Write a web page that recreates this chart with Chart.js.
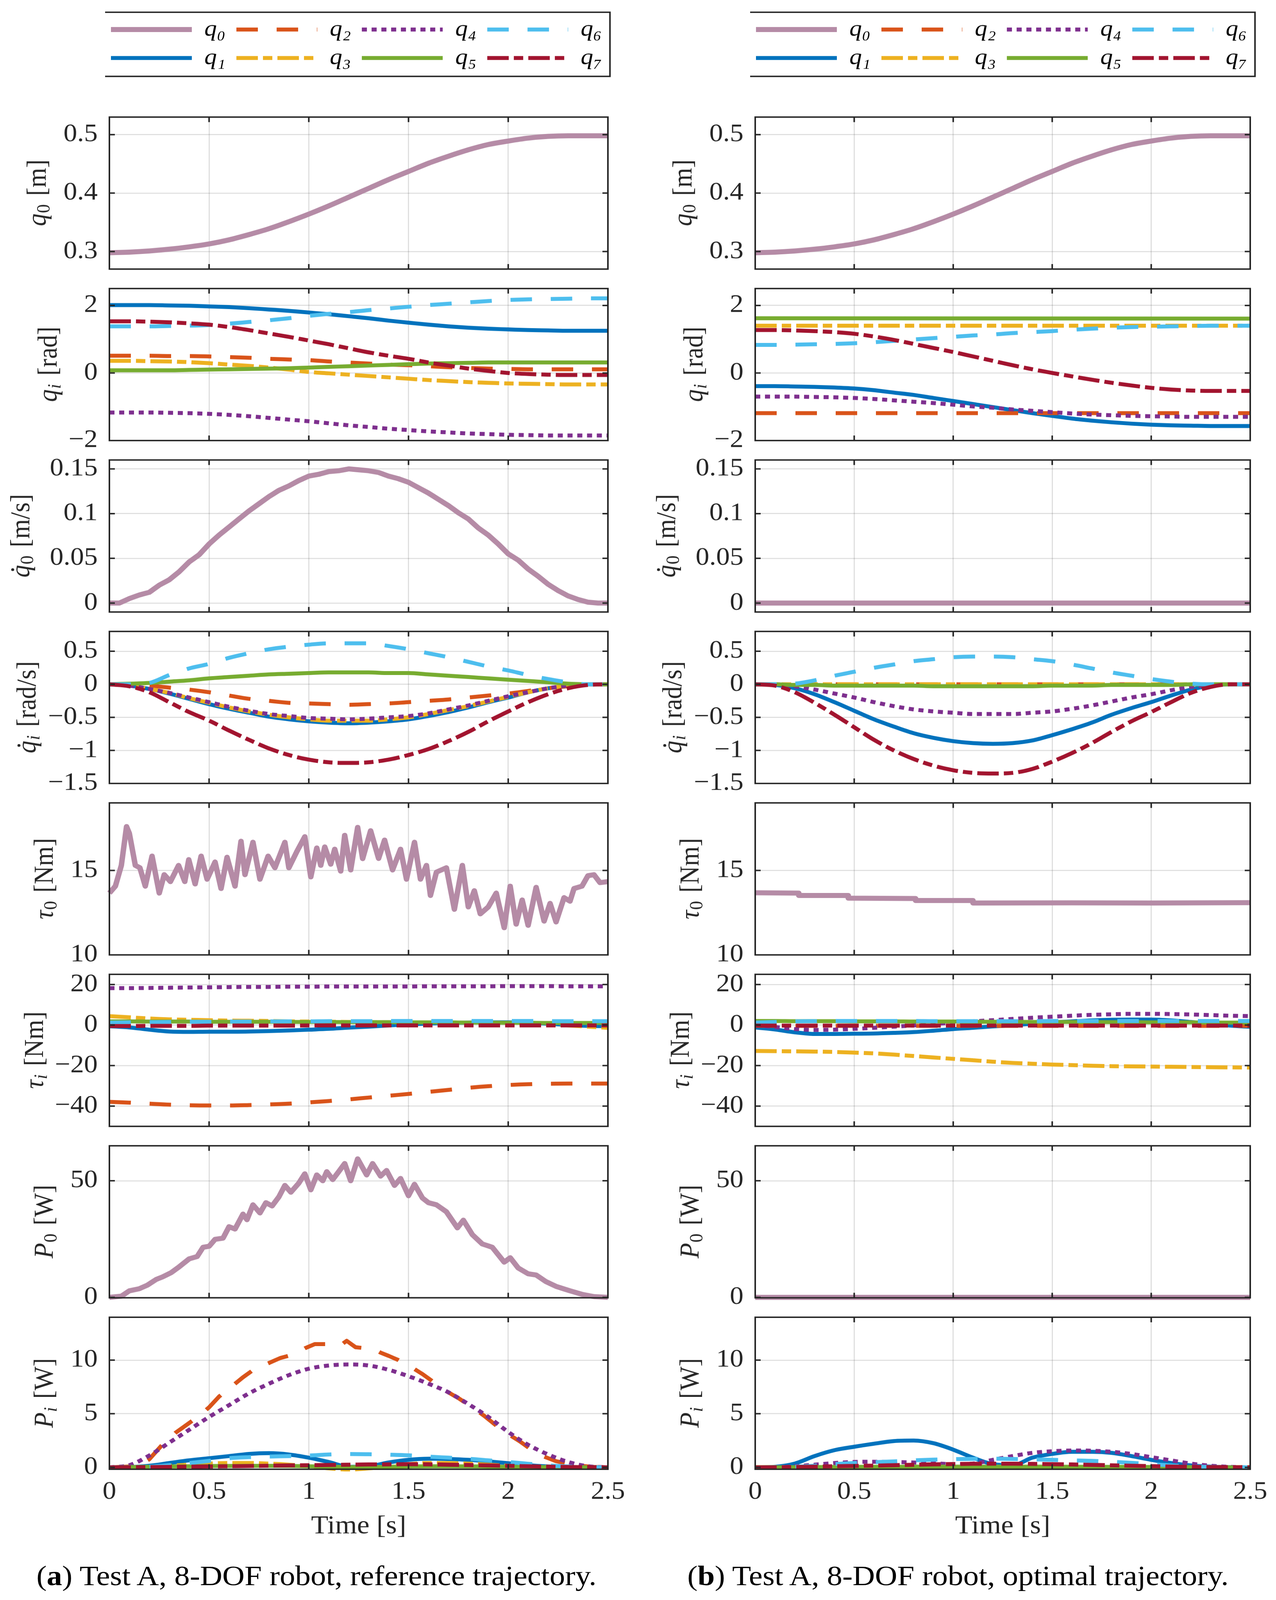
<!DOCTYPE html>
<html>
<head>
<meta charset="utf-8">
<script src="https://cdn.jsdelivr.net/npm/chart.js@4.4.1/dist/chart.umd.min.js"></script>
<style>
  html, body { margin: 0; padding: 0; background: #fff; overflow: hidden; }
  #page { position: relative; width: 3266px; height: 4442px; transform-origin: 0 0; }
  #page canvas { position: absolute; }
  .cap { position: absolute; height: 110px; line-height: 110px; text-align: center; white-space: nowrap;
         font-family: "Liberation Serif", serif; font-size: 79px; color: #000; }
</style>
</head>
<body>
<div id="page"></div>
<script>
// ---- sample times ----
const T = [0,0.1,0.2,0.3,0.4,0.5,0.6,0.7,0.8,0.9,1.0,1.1,1.2,1.3,1.4,1.5,1.6,1.7,1.8,1.9,2.0,2.1,2.2,2.3,2.4,2.5];
const T2 = [0, 2.5];
const T51 = [0,0.05,0.1,0.15,0.2,0.25,0.3,0.35,0.4,0.45,0.5,0.55,0.6,0.65,0.7,0.75,0.8,0.85,0.9,0.95,1.0,
  1.05,1.1,1.15,1.2,1.25,1.3,1.35,1.4,1.45,1.5,1.55,1.6,1.65,1.7,1.75,1.8,1.85,1.9,1.95,2.0,
  2.05,2.1,2.15,2.2,2.25,2.3,2.35,2.4,2.45,2.5];

// ---- (a) reference trajectory ----
const aQ0 = [0.298,0.299,0.301,0.304,0.308,0.313,0.320,0.329,0.339,0.351,0.364,0.378,0.393,0.408,0.423,0.437,0.451,0.463,0.474,0.483,0.489,0.494,0.497,0.498,0.498,0.498];
const aQ1 = [2.01,2.01,2.01,2.00,1.99,1.97,1.95,1.92,1.88,1.84,1.79,1.74,1.68,1.62,1.55,1.49,1.43,1.38,1.34,1.31,1.29,1.27,1.26,1.25,1.25,1.25];
const aQ2 = [0.51,0.51,0.51,0.50,0.50,0.49,0.47,0.45,0.42,0.40,0.38,0.34,0.31,0.28,0.25,0.23,0.20,0.17,0.15,0.13,0.12,0.11,0.11,0.11,0.11,0.11];
const aQ3 = [0.36,0.36,0.35,0.34,0.32,0.29,0.25,0.21,0.16,0.10,0.03,-0.01,-0.05,-0.09,-0.13,-0.17,-0.21,-0.24,-0.27,-0.29,-0.31,-0.32,-0.33,-0.34,-0.34,-0.34];
const aQ4 = [-1.17,-1.17,-1.17,-1.18,-1.19,-1.21,-1.24,-1.28,-1.33,-1.38,-1.43,-1.49,-1.55,-1.60,-1.65,-1.69,-1.73,-1.76,-1.79,-1.81,-1.83,-1.84,-1.85,-1.85,-1.85,-1.85];
const aQ5 = [0.08,0.08,0.08,0.08,0.09,0.10,0.11,0.12,0.13,0.14,0.16,0.18,0.20,0.22,0.24,0.26,0.28,0.29,0.30,0.31,0.31,0.31,0.31,0.31,0.31,0.31];
const aQ6 = [1.38,1.38,1.38,1.39,1.40,1.42,1.46,1.51,1.56,1.62,1.69,1.75,1.80,1.86,1.91,1.96,2.01,2.05,2.09,2.13,2.16,2.18,2.19,2.20,2.21,2.21];
const aQ7 = [1.53,1.53,1.52,1.50,1.47,1.43,1.36,1.27,1.17,1.07,0.96,0.85,0.73,0.61,0.51,0.42,0.31,0.22,0.13,0.06,0.00,-0.03,-0.05,-0.06,-0.06,-0.06];

const aDQ0 = [0,0,0.005,0.009,0.012,0.020,0.026,0.035,0.046,0.054,0.066,0.076,0.085,0.094,0.103,0.111,0.119,0.126,0.131,0.137,0.142,
  0.144,0.147,0.148,0.150,0.149,0.148,0.146,0.142,0.139,0.135,0.129,0.123,0.116,0.109,0.101,0.094,0.084,0.076,0.066,0.055,
  0.048,0.038,0.030,0.021,0.014,0.008,0.004,0.001,0,0];
const aDQ1 = [0,-0.02,-0.07,-0.14,-0.22,-0.30,-0.37,-0.43,-0.49,-0.53,-0.56,-0.58,-0.59,-0.58,-0.56,-0.53,-0.48,-0.42,-0.35,-0.27,-0.20,-0.12,-0.06,-0.02,0,0];
const aDQ2 = [0,0,-0.02,-0.05,-0.08,-0.12,-0.17,-0.22,-0.25,-0.28,-0.29,-0.30,-0.31,-0.30,-0.29,-0.27,-0.25,-0.23,-0.20,-0.17,-0.14,-0.10,-0.06,-0.03,0,0];
const aDQ3 = [0,-0.02,-0.07,-0.13,-0.21,-0.28,-0.35,-0.41,-0.46,-0.50,-0.53,-0.55,-0.55,-0.55,-0.53,-0.50,-0.45,-0.39,-0.33,-0.26,-0.19,-0.12,-0.06,-0.02,0,0];
const aDQ4 = [0,-0.02,-0.07,-0.13,-0.20,-0.27,-0.34,-0.40,-0.45,-0.48,-0.51,-0.52,-0.53,-0.52,-0.50,-0.48,-0.44,-0.38,-0.32,-0.25,-0.18,-0.12,-0.06,-0.02,0,0];
const aDQ5 = [0,0.01,0.02,0.04,0.06,0.09,0.11,0.13,0.15,0.16,0.17,0.18,0.18,0.18,0.17,0.17,0.15,0.13,0.11,0.09,0.07,0.05,0.03,0.01,0,0];
const aDQ6 = [0,0,0.02,0.14,0.24,0.31,0.40,0.47,0.53,0.57,0.60,0.62,0.62,0.62,0.58,0.53,0.47,0.41,0.34,0.27,0.21,0.14,0.08,0.03,0,0];
const aDQ7 = [0,-0.03,-0.12,-0.27,-0.42,-0.55,-0.70,-0.84,-0.97,-1.07,-1.14,-1.18,-1.19,-1.18,-1.14,-1.07,-0.98,-0.86,-0.72,-0.56,-0.41,-0.27,-0.15,-0.06,-0.01,0];

const aTau0T = [0,0.03,0.06,0.086,0.10,0.13,0.153,0.18,0.214,0.25,0.275,0.306,0.347,0.378,0.398,0.43,0.46,0.49,0.53,0.56,
  0.59,0.63,0.66,0.68,0.72,0.755,0.796,0.83,0.88,0.90,0.94,0.98,1.01,1.04,1.06,1.08,1.11,1.13,1.16,1.18,
  1.21,1.245,1.27,1.31,1.35,1.38,1.42,1.46,1.49,1.53,1.56,1.59,1.61,1.64,1.69,1.73,1.77,1.80,1.83,1.86,
  1.90,1.94,1.98,2.01,2.04,2.07,2.10,2.14,2.18,2.21,2.24,2.28,2.31,2.33,2.37,2.40,2.43,2.46,2.5];
const aTau0 = [13.66,14.07,15.3,17.6,17.2,15.3,15.16,14.07,15.85,13.66,14.75,14.34,15.3,14.34,15.64,14.2,15.85,14.48,15.5,13.93,
  15.78,14.07,16.73,14.75,16.67,14.48,15.85,15.16,16.67,15.16,16.12,17.0,14.62,16.33,15.3,16.39,15.37,16.26,14.96,17.08,
  15.03,17.55,15.7,17.35,15.71,16.8,15.03,16.26,14.48,16.67,14.48,15.3,13.52,14.9,15.16,12.7,15.3,12.84,13.8,12.43,
  12.84,13.66,11.61,14.07,11.82,13.25,11.75,14.0,12.0,13.05,11.95,13.39,13.18,13.93,14.07,14.69,14.75,14.28,14.34];
const aTau1 = [-0.6,-1.2,-2.3,-3.2,-3.4,-3.3,-3.3,-3.2,-3.0,-2.7,-2.3,-1.9,-1.3,-0.8,-0.2,0.3,0.7,1.0,1.2,1.3,1.3,1.1,0.6,0.0,-0.4,-0.6];
const aTau2 = [-37.9,-38.3,-38.8,-39.3,-39.6,-39.7,-39.7,-39.5,-39.2,-38.8,-38.2,-37.5,-36.7,-35.8,-34.9,-34.0,-33.0,-32.0,-31.0,-30.2,-29.6,-29.2,-29.0,-28.9,-28.9,-28.9];
const aTau3 = [4.4,3.8,3.2,2.8,2.6,2.4,2.2,2.1,2.0,1.8,1.7,1.6,1.5,1.4,1.3,1.2,1.1,1.0,0.9,0.8,0.7,0.5,0.3,-0.2,-0.8,-1.4];
const aTau4 = [18.2,18.2,18.3,18.4,18.5,18.6,18.7,18.8,18.8,18.9,18.9,19.0,19.0,19.0,19.0,19.0,19.1,19.1,19.1,19.1,19.2,19.2,19.2,19.1,19.1,19.1];
const aTau5 = [1.8,1.8,1.7,1.7,1.7,1.6,1.6,1.6,1.6,1.5,1.5,1.5,1.4,1.4,1.4,1.3,1.3,1.3,1.2,1.2,1.1,1.1,1.0,1.0,1.0,1.0];
const aTau6 = [1.2,1.3,1.4,1.5,1.6,1.6,1.7,1.7,1.8,1.8,1.8,1.9,1.9,1.9,2.0,2.0,2.0,2.0,2.0,2.0,2.0,2.0,1.9,1.9,1.9,1.9];
const aTau7 = [-0.5,-0.5,-0.4,-0.4,-0.4,-0.3,-0.3,-0.3,-0.3,-0.3,-0.2,-0.2,-0.2,-0.2,-0.2,-0.2,-0.2,-0.2,-0.2,-0.2,-0.2,-0.2,-0.2,-0.2,-0.2,-0.2];

const aP0T = [0,0.06,0.10,0.15,0.19,0.235,0.265,0.31,0.35,0.40,0.44,0.47,0.50,0.53,0.57,0.60,0.63,0.67,0.69,0.72,
  0.755,0.785,0.816,0.85,0.88,0.91,0.95,0.98,1.01,1.04,1.07,1.09,1.12,1.15,1.18,1.21,1.245,1.29,1.32,1.36,
  1.39,1.43,1.46,1.50,1.53,1.57,1.60,1.64,1.69,1.745,1.775,1.82,1.87,1.92,1.98,2.01,2.05,2.10,2.14,2.19,
  2.24,2.31,2.37,2.43,2.5];
const aP0 = [0,0.5,2.8,3.7,5.2,7.7,8.7,10.6,13.1,16.5,17.5,21.5,21.9,24.9,25.4,30.3,29.3,35.7,33.3,39.7,
  36.2,40.6,39.2,43.1,48.0,45.1,49.0,53.0,46.1,52.5,50.0,53.9,50.5,53.9,57.4,50.0,59.4,52.5,57.4,52.0,
  54.4,48.0,51.0,43.6,48.5,42.6,40.6,39.7,36.7,29.8,33.1,26.9,22.9,21.5,15.1,17.0,12.6,10.1,9.6,6.7,
  4.7,2.8,1.3,0.3,0];
const aP1 = [0,0.02,0.15,0.4,0.65,0.85,1.05,1.25,1.32,1.2,0.9,0.5,0.05,0.1,0.45,0.7,0.8,0.78,0.7,0.55,0.38,0.2,0.08,0.02,0,0];
const aP2T = [0,0.14,0.2,0.265,0.33,0.39,0.45,0.5,0.55,0.61,0.67,0.73,0.796,0.857,0.918,0.98,1.03,1.10,1.16,1.19,
  1.235,1.29,1.33,1.36,1.40,1.45,1.51,1.57,1.63,1.69,1.755,1.82,1.88,1.94,2.0,2.06,2.12,2.18,2.24,2.31,
  2.37,2.43,2.5];
const aP2 = [0,0.1,0.75,2.1,3.2,4.0,4.8,5.6,6.6,7.5,8.4,9.2,9.7,10.2,10.5,11.1,11.5,11.5,11.4,11.8,
  11.2,11.1,11.0,10.7,10.4,10.0,9.4,8.7,7.9,7.1,6.4,5.6,4.8,3.9,3.1,2.4,1.6,1.0,0.57,0.3,
  0.13,0.04,0];
const aP3 = [0,0,0.05,0.15,0.25,0.35,0.4,0.4,0.35,0.25,0.1,-0.1,-0.2,-0.1,0.1,0.3,0.4,0.4,0.35,0.25,0.15,0.08,0.03,0.01,0,0];
const aP4 = [0,0.2,1.1,2.3,3.5,4.7,5.8,6.9,7.8,8.6,9.2,9.5,9.6,9.5,9.1,8.5,7.8,7.0,5.9,4.7,3.3,2.1,1.2,0.5,0.1,0];
const aP5 = [0,0.02,0.05,0.08,0.1,0.12,0.13,0.14,0.14,0.13,0.1,0.06,0.02,0.02,0.05,0.08,0.1,0.1,0.09,0.07,0.05,0.03,0.02,0.01,0,0];
const aP6 = [0,0,0.05,0.2,0.4,0.6,0.85,0.95,1.0,1.05,1.1,1.2,1.24,1.22,1.18,1.12,1.0,0.9,0.8,0.65,0.5,0.33,0.18,0.08,0.02,0];
const aP7 = [0,0,0.02,0.04,0.06,0.08,0.1,0.12,0.15,0.18,0.2,0.22,0.25,0.27,0.28,0.3,0.28,0.25,0.22,0.18,0.14,0.1,0.06,0.03,0.01,0];

// ---- (b) optimal trajectory ----
const bQ0 = [0.298,0.299,0.301,0.304,0.308,0.313,0.320,0.329,0.339,0.351,0.364,0.378,0.393,0.408,0.423,0.437,0.451,0.463,0.474,0.483,0.489,0.494,0.497,0.498,0.498,0.498];
const bQ1 = [-0.39,-0.39,-0.40,-0.41,-0.43,-0.46,-0.51,-0.58,-0.65,-0.74,-0.83,-0.92,-1.01,-1.10,-1.19,-1.27,-1.35,-1.41,-1.46,-1.50,-1.53,-1.55,-1.56,-1.57,-1.57,-1.57];
const bQ2 = [-1.19,-1.19];
const bQ3 = [1.40,1.40];
const bQ4 = [-0.70,-0.70,-0.70,-0.71,-0.72,-0.74,-0.77,-0.81,-0.85,-0.89,-0.94,-0.99,-1.03,-1.08,-1.12,-1.16,-1.20,-1.23,-1.25,-1.27,-1.28,-1.29,-1.30,-1.30,-1.30,-1.30];
const bQ5 = [1.62,1.61];
const bQ6 = [0.83,0.83,0.84,0.85,0.86,0.88,0.91,0.95,0.99,1.03,1.07,1.11,1.14,1.18,1.21,1.24,1.28,1.31,1.34,1.36,1.37,1.38,1.39,1.40,1.40,1.40];
const bQ7 = [1.27,1.27,1.26,1.24,1.21,1.16,1.08,0.98,0.86,0.74,0.62,0.49,0.36,0.23,0.11,0.00,-0.10,-0.20,-0.29,-0.37,-0.44,-0.49,-0.52,-0.53,-0.53,-0.53];

const bDQ0 = [0,0];
const bDQ1 = [0,-0.01,-0.06,-0.15,-0.27,-0.40,-0.53,-0.64,-0.74,-0.81,-0.86,-0.89,-0.90,-0.89,-0.85,-0.77,-0.68,-0.58,-0.46,-0.36,-0.27,-0.17,-0.08,-0.02,0,0];
const bDQ2 = [0,0];
const bDQ3 = [0,0];
const bDQ4 = [0,0,-0.03,-0.08,-0.14,-0.20,-0.27,-0.33,-0.38,-0.41,-0.43,-0.45,-0.45,-0.45,-0.43,-0.41,-0.37,-0.32,-0.26,-0.20,-0.15,-0.09,-0.04,-0.01,0,0];
const bDQ5 = [0,0,-0.01,-0.01,-0.02,-0.02,-0.02,-0.02,-0.02,-0.03,-0.03,-0.03,-0.03,-0.03,-0.03,-0.02,-0.02,-0.02,-0.01,-0.01,-0.01,-0.01,0,0,0,0];
const bDQ6 = [0,0,0.01,0.06,0.13,0.19,0.25,0.30,0.35,0.38,0.41,0.42,0.42,0.41,0.38,0.35,0.30,0.24,0.18,0.13,0.08,0.04,0.01,0,0,0];
const bDQ7 = [0,-0.02,-0.12,-0.28,-0.46,-0.65,-0.84,-1.00,-1.13,-1.23,-1.30,-1.34,-1.35,-1.34,-1.28,-1.17,-1.04,-0.89,-0.72,-0.56,-0.42,-0.27,-0.13,-0.04,0,0];

const bTau0T = [0,0.22,0.22,0.47,0.47,0.81,0.81,1.10,1.10,1.6,2.0,2.5];
const bTau0 = [13.68,13.66,13.52,13.52,13.36,13.34,13.22,13.22,13.07,13.08,13.07,13.09];
const bTau1 = [-1.2,-2.2,-3.6,-4.4,-4.4,-4.3,-4.2,-3.9,-3.5,-2.8,-2.0,-1.4,-0.7,-0.1,0.6,1.3,1.8,2.3,2.6,2.7,2.7,2.3,1.5,0.6,-0.3,-0.9];
const bTau2 = [-0.4,-0.4];
const bTau3 = [-12.8,-12.9,-13.0,-13.1,-13.3,-13.6,-14.0,-14.6,-15.3,-16.0,-16.7,-17.4,-18.1,-18.7,-19.1,-19.5,-19.8,-20.1,-20.3,-20.4,-20.5,-20.6,-20.7,-20.8,-20.9,-21.0];
const bTau4 = [0.0,-1.0,-2.0,-2.4,-2.3,-1.9,-1.4,-0.8,-0.2,0.5,1.1,1.8,2.4,3.0,3.6,4.1,4.6,5.0,5.3,5.5,5.5,5.4,5.2,4.9,4.6,4.4];
const bTau5 = [2.0,2.0,1.9,1.9,1.9,1.8,1.8,1.8,1.7,1.7,1.7,1.6,1.6,1.6,1.5,1.5,1.5,1.4,1.4,1.4,1.3,1.3,1.3,1.2,1.2,1.2];
const bTau6 = [1.2,1.5,1.8,1.9,2.0,2.0,2.0,2.0,2.0,1.9,1.9,1.9,1.9,1.9,1.9,2.0,2.0,2.0,2.0,2.0,2.0,2.0,2.0,2.0,2.0,2.0];
const bTau7 = [-0.3,-0.3];

const bP0 = [0,0];
const bP1 = [0,0.05,0.35,1.05,1.6,1.92,2.2,2.45,2.5,2.25,1.65,0.9,0.3,0.2,0.9,1.25,1.45,1.45,1.35,1.05,0.7,0.4,0.18,0.06,0.01,0];
const bP2 = [0,0];
const bP3 = [0.02,0.02];
const bP4 = [0,0,0.1,0.25,0.4,0.5,0.52,0.5,0.45,0.38,0.3,0.35,0.7,1.05,1.35,1.5,1.57,1.55,1.45,1.25,0.95,0.65,0.35,0.15,0.04,0];
const bP5 = [0,0,0.01,0.02,0.03,0.04,0.05,0.05,0.06,0.06,0.06,0.06,0.06,0.06,0.06,0.06,0.05,0.05,0.04,0.04,0.03,0.02,0.01,0.01,0,0];
const bP6 = [0,0,0.05,0.15,0.3,0.4,0.48,0.55,0.65,0.72,0.76,0.79,0.8,0.78,0.74,0.7,0.65,0.6,0.52,0.42,0.3,0.18,0.08,0.03,0.01,0];
const bP7 = [0,0,0.03,0.06,0.1,0.13,0.16,0.2,0.24,0.28,0.31,0.33,0.34,0.34,0.32,0.3,0.27,0.23,0.19,0.15,0.11,0.07,0.04,0.02,0.01,0];

const X_TICKS = [0, 0.5, 1, 1.5, 2, 2.5];
const JOINT_LABELS = ['q\u2080','q\u2081','q\u2082','q\u2083','q\u2084','q\u2085','q\u2086','q\u2087'];
const LEGEND_ORDER = [0, 2, 4, 6, 1, 3, 5, 7];

// ---- styles ----
const INK = '#262626';
const SERIF = '"Liberation Serif", "DejaVu Serif", serif';
const JOINTS = [
  { color: '#B58BA6', width: 14, dash: [] },
  { color: '#0072BD', width: 11, dash: [] },
  { color: '#D95319', width: 11, dash: [55, 48] },
  { color: '#EDB120', width: 11, dash: [55, 13, 24, 13] },
  { color: '#7E2F8E', width: 11, dash: [13, 12] },
  { color: '#77AC30', width: 11, dash: [] },
  { color: '#4DBEEE', width: 11, dash: [55, 48] },
  { color: '#A2142F', width: 11, dash: [55, 13, 24, 13] }
];

// layout in reference pixels (3266 x 4442)
const PANEL_TOP = 325, PANEL_STEP = 476, PANEL_H = 422, PAD_TOP = 80;
const COLS = [
  { left: 0, width: 1640, right: 84, legendLeft: 269, capCenter: 810,
    caption: '(<b>a</b>) Test A, 8-DOF robot, reference trajectory.' },
  { left: 1653, width: 1640, right: 93, legendLeft: 1920, capCenter: 2452,
    caption: '(<b>b</b>) Test A, 8-DOF robot, optimal trajectory.' }
];
const ROWS = [
  { min: 0.27, max: 0.53, step: 0.1, lab: { sym: 'q', sub: '0', unit: '[m]', x: 99 } },
  { min: -2, max: 2.5, step: 2, lab: { sym: 'q', sub: 'i', subIt: true, unit: '[rad]', x: 127 } },
  { min: -0.01, max: 0.16, step: 0.05, lab: { sym: 'q', dot: true, sub: '0', unit: '[m/s]', x: 57 } },
  { min: -1.5, max: 0.8, step: 0.5, lab: { sym: 'q', dot: true, sub: 'i', subIt: true, unit: '[rad/s]', x: 73 } },
  { min: 10, max: 19, step: 5, lab: { sym: '\u03C4', sub: '0', unit: '[Nm]', x: 117 } },
  { min: -50, max: 25, step: 20, lab: { sym: '\u03C4', sub: 'i', subIt: true, unit: '[Nm]', x: 92 } },
  { min: -0.2, max: 65, step: 50, lab: { sym: 'P', sub: '0', unit: '[W]', x: 117 } },
  { min: -0.18, max: 14, step: 5, lab: { sym: 'P', sub: 'i', subIt: true, unit: '[W]', x: 117 } }
];

// series per panel: [joint, times, values, smooth]
const SERIES = [
  [
    [[0, T, aQ0, true]],
    [[1, T, aQ1, true], [2, T, aQ2, true], [3, T, aQ3, true], [4, T, aQ4, true], [5, T, aQ5, true], [6, T, aQ6, true], [7, T, aQ7, true]],
    [[0, T51, aDQ0, false]],
    [[1, T, aDQ1, true], [2, T, aDQ2, true], [3, T, aDQ3, true], [4, T, aDQ4, true], [5, T, aDQ5, true], [6, T, aDQ6, true], [7, T, aDQ7, true]],
    [[0, aTau0T, aTau0, false]],
    [[1, T, aTau1, true], [2, T, aTau2, true], [3, T, aTau3, true], [4, T, aTau4, true], [5, T, aTau5, true], [6, T, aTau6, true], [7, T, aTau7, true]],
    [[0, aP0T, aP0, false]],
    [[1, T, aP1, true], [2, aP2T, aP2, false], [3, T, aP3, true], [4, T, aP4, true], [5, T, aP5, true], [6, T, aP6, true], [7, T, aP7, true]]
  ],
  [
    [[0, T, bQ0, true]],
    [[1, T, bQ1, true], [2, T2, bQ2, false], [3, T2, bQ3, false], [4, T, bQ4, true], [5, T2, bQ5, false], [6, T, bQ6, true], [7, T, bQ7, true]],
    [[0, T2, bDQ0, false]],
    [[1, T, bDQ1, true], [2, T2, bDQ2, false], [3, T2, bDQ3, false], [4, T, bDQ4, true], [5, T, bDQ5, true], [6, T, bDQ6, true], [7, T, bDQ7, true]],
    [[0, bTau0T, bTau0, false]],
    [[1, T, bTau1, true], [2, T2, bTau2, false], [3, T, bTau3, true], [4, T, bTau4, true], [5, T, bTau5, true], [6, T, bTau6, true], [7, T2, bTau7, false]],
    [[0, T2, bP0, false]],
    [[1, T, bP1, true], [2, T2, bP2, false], [3, T2, bP3, false], [4, T, bP4, true], [5, T, bP5, true], [6, T, bP6, true], [7, T, bP7, true]]
  ]
];

const fmt = v => String(Math.round(v * 1000) / 1000).replace('-', '\u2212');

function lineSet(j, t, v, smooth) {
  const s = JOINTS[j];
  return {
    label: JOINT_LABELS[j],
    data: v.map((y, i) => ({ x: t[i], y })),
    borderColor: s.color,
    backgroundColor: s.color,
    borderWidth: s.width,
    borderDash: s.dash,
    borderCapStyle: 'butt',
    borderJoinStyle: 'round',
    pointRadius: 0,
    fill: false,
    tension: 0,
    cubicInterpolationMode: smooth ? 'monotone' : 'default',
    order: 10 - j,
    clip: 12
  };
}

// box round the axes with inward ticks on all four sides
const framePlugin = {
  id: 'frame',
  afterDraw(chart) {
    const { ctx, chartArea: a, scales } = chart;
    const tl = 14;
    ctx.save();
    ctx.strokeStyle = INK;
    ctx.lineWidth = 4;
    ctx.setLineDash([]);
    ctx.beginPath();
    scales.x.ticks.forEach(tk => {
      const px = scales.x.getPixelForValue(tk.value);
      ctx.moveTo(px, a.bottom); ctx.lineTo(px, a.bottom - tl);
      ctx.moveTo(px, a.top); ctx.lineTo(px, a.top + tl);
    });
    scales.y.ticks.forEach(tk => {
      const py = scales.y.getPixelForValue(tk.value);
      ctx.moveTo(a.left, py); ctx.lineTo(a.left + tl, py);
      ctx.moveTo(a.right, py); ctx.lineTo(a.right - tl, py);
    });
    ctx.stroke();
    ctx.strokeRect(a.left, a.top, a.right - a.left, a.bottom - a.top);
    ctx.restore();
  }
};

// rotated y label: italic symbol, optional dot, subscript, upright unit
const yLabelPlugin = {
  id: 'yLabel',
  afterDraw(chart, args, o) {
    if (!o || !o.sym) return;
    const { ctx, chartArea: a } = chart;
    const fs = 70;
    const symFont = `italic ${fs}px ${SERIF}`;
    const subFont = `${o.subIt ? 'italic ' : ''}${Math.round(fs * 0.7)}px ${SERIF}`;
    const unitFont = `${fs}px ${SERIF}`;
    ctx.save();
    ctx.font = symFont; const w1 = ctx.measureText(o.sym).width;
    ctx.font = subFont; const w2 = ctx.measureText(o.sub).width;
    ctx.font = unitFont; const w3 = ctx.measureText(o.unit).width;
    const gap = fs * 0.33;
    const total = w1 + w2 + gap + w3;
    ctx.translate(o.x, (a.top + a.bottom) / 2);
    ctx.rotate(-Math.PI / 2);
    ctx.fillStyle = INK;
    ctx.textAlign = 'left';
    ctx.textBaseline = 'alphabetic';
    const base = fs * 0.25;
    let x = -total / 2;
    ctx.font = symFont;
    ctx.fillText(o.sym, x, base);
    if (o.dot) {
      ctx.beginPath();
      ctx.arc(x + w1 * 0.62, base - fs * 0.6, fs * 0.055, 0, Math.PI * 2);
      ctx.fill();
    }
    x += w1 + fs * 0.02;
    ctx.font = subFont;
    ctx.fillText(o.sub, x, base + fs * 0.15);
    x += w2 + gap;
    ctx.font = unitFont;
    ctx.fillText(o.unit, x, base);
    ctx.restore();
  }
};

const legendBoxPlugin = {
  id: 'legendBox',
  afterDraw(chart) {
    const boxes = chart.legend.legendHitBoxes;
    if (!boxes || !boxes.length) return;
    const l = Math.min(...boxes.map(b => b.left)) - 17;
    const r = Math.max(...boxes.map(b => b.left + b.width)) + 8;
    const t = Math.min(...boxes.map(b => b.top)) - 16;
    const btm = Math.max(...boxes.map(b => b.top + b.height)) + 19;
    const ctx = chart.ctx;
    ctx.save();
    ctx.strokeStyle = INK;
    ctx.lineWidth = 4;
    ctx.setLineDash([]);
    ctx.strokeRect(l, t, r - l, btm - t);
    ctx.restore();
  }
};

const page = document.getElementById('page');
// the photo is the viewport; fit the 3266x4442 layout into it
page.style.transform = 'scale(' + (window.innerWidth / 3266) + ',' + (window.innerHeight / 4442) + ')';

function addCanvas(left, top, w, h) {
  const c = document.createElement('canvas');
  c.width = w; c.height = h;
  c.style.left = left + 'px'; c.style.top = top + 'px';
  c.style.width = w + 'px'; c.style.height = h + 'px';
  page.appendChild(c);
  return c;
}

COLS.forEach((col, ci) => {
  // legend, two rows: q0 q2 q4 q6 / q1 q3 q5 q7
  const lc = addCanvas(col.legendLeft, 0, 1500, 600);
  new Chart(lc.getContext('2d'), {
    type: 'line',
    data: { datasets: LEGEND_ORDER.map((j, k) => Object.assign(lineSet(j, [], [], false), { order: k })) },
    options: {
      responsive: false, animation: false, devicePixelRatio: 1,
      layout: { padding: { top: 35 } },
      scales: { x: { type: 'linear', display: false }, y: { display: false } },
      plugins: {
        tooltip: { enabled: false },
        legend: {
          display: true, position: 'top', align: 'start',
          labels: {
            usePointStyle: true, pointStyle: 'line', pointStyleWidth: 207,
            padding: 15, color: '#000',
            font: { family: SERIF, size: 64, style: 'italic' },
            generateLabels(chart) {
              const items = Chart.defaults.plugins.legend.labels.generateLabels(chart);
              items.forEach(it => {
                const s = JOINTS[LEGEND_ORDER[it.datasetIndex]];
                it.text = it.text + '\u2009';
                it.lineDash = s.dash;
                it.lineWidth = s.width;
                it.strokeStyle = s.color;
                it.fillStyle = s.color;
                it.lineCap = 'butt';
              });
              return items;
            }
          }
        }
      }
    },
    plugins: [legendBoxPlugin]
  });

  ROWS.forEach((row, ri) => {
    const bottomRow = ri === ROWS.length - 1;
    const xH = bottomRow ? 202 : 80;
    const top = PANEL_TOP + PANEL_STEP * ri - PAD_TOP;
    const c = addCanvas(col.left, top, col.width, PAD_TOP + PANEL_H + xH);
    const datasets = SERIES[ci][ri].map(s => lineSet(s[0], s[1], s[2], s[3]));
    new Chart(c.getContext('2d'), {
      type: 'line',
      data: { datasets },
      options: {
        responsive: false, animation: false, devicePixelRatio: 1,
        layout: { padding: { top: PAD_TOP, right: col.right, left: 0, bottom: 0 } },
        plugins: { legend: { display: false }, tooltip: { enabled: false }, yLabel: row.lab },
        scales: {
          x: {
            type: 'linear', min: 0, max: 2.5,
            afterBuildTicks: s => { s.ticks = X_TICKS.map(v => ({ value: v })); },
            afterFit: s => { s.height = xH; },
            grid: { color: 'rgba(38,38,38,0.15)', lineWidth: 3, drawTicks: false },
            border: { display: false },
            ticks: {
              display: bottomRow, padding: 22, color: INK, maxRotation: 0,
              font: { family: SERIF, size: 70 }, callback: v => fmt(v)
            },
            title: {
              display: bottomRow, text: 'Time [s]', color: INK,
              font: { family: SERIF, size: 72 }, padding: { top: 0, bottom: 0 }
            }
          },
          y: {
            type: 'linear', min: row.min, max: row.max,
            afterFit: s => { s.width = 280; },
            grid: { color: 'rgba(38,38,38,0.15)', lineWidth: 3, drawTicks: false },
            border: { display: false },
            ticks: {
              stepSize: row.step, includeBounds: false, padding: 30, color: INK,
              font: { family: SERIF, size: 70 }, callback: v => fmt(v)
            }
          }
        }
      },
      plugins: [framePlugin, yLabelPlugin]
    });
  });

  const cap = document.createElement('div');
  cap.className = 'cap';
  cap.style.left = (col.capCenter - 800) + 'px';
  cap.style.width = '1600px';
  cap.style.top = '4320px';
  cap.innerHTML = col.caption;
  page.appendChild(cap);
});
</script>
</body>
</html>
